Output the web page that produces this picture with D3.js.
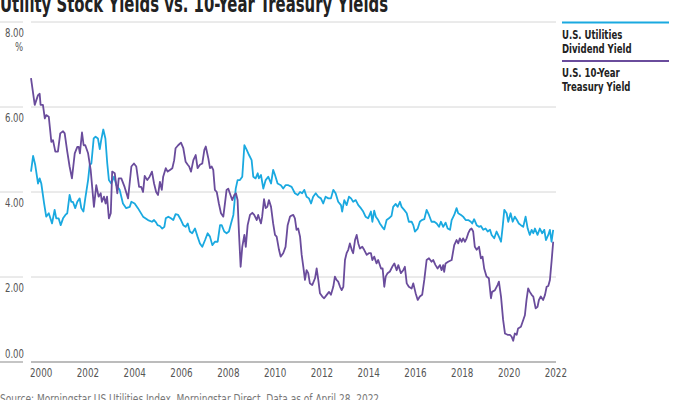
<!DOCTYPE html>
<html>
<head>
<meta charset="utf-8">
<script src="https://cdn.jsdelivr.net/npm/d3@7"></script>
<style>
  html, body { margin: 0; padding: 0; background: #fff; }
  svg { display: block; }
  .cond { font-family: "Liberation Sans Narrow", "DejaVu Sans Condensed", "Roboto", sans-serif; }
</style>
</head>
<body>
<svg id="chart" width="700" height="400"></svg>
<script>
// ---- Data (decimal years, percent yields) ----
const tsyYears = [2000.00,2000.16,2000.30,2000.37,2000.41,2000.51,2000.59,2000.65,2000.76,2000.87,2000.94,
2001.04,2001.15,2001.25,2001.37,2001.44,2001.55,2001.65,2001.75,2001.87,2001.98,
2002.04,2002.09,2002.18,2002.25,2002.32,2002.44,2002.55,2002.69,2002.79,2002.89,2002.98,
2003.03,2003.12,2003.19,2003.25,2003.33,2003.41,2003.47,2003.58,2003.69,2003.75,2003.86,
2004.00,2004.15,2004.29,2004.40,2004.50,2004.62,2004.71,2004.79,2004.86,2004.97,
2005.07,2005.17,2005.26,2005.35,2005.43,2005.51,2005.59,2005.65,2005.76,2005.84,2005.94,
2006.04,2006.12,2006.18,2006.29,2006.41,2006.51,2006.61,2006.70,2006.76,2006.84,2006.94,
2007.04,2007.12,2007.22,2007.32,2007.41,2007.47,2007.58,2007.65,2007.72,2007.79,2007.86,2007.94,
2008.03,2008.12,2008.22,2008.29,2008.36,2008.43,2008.50,2008.60,2008.69,2008.76,2008.83,2008.89,2008.96,
2009.03,2009.12,2009.18,2009.26,2009.36,2009.46,2009.54,2009.65,2009.71,2009.83,2009.88,2009.96,
2010.03,2010.10,2010.17,2010.26,2010.35,2010.43,2010.50,2010.60,2010.67,2010.78,2010.88,2010.97,
2011.07,2011.11,2011.21,2011.28,2011.35,2011.42,2011.50,2011.57,2011.64,2011.71,2011.78,2011.85,2011.92,
2012.02,2012.14,2012.21,2012.28,2012.35,2012.45,2012.53,2012.64,2012.74,2012.82,2012.92,2012.99,
2013.06,2013.13,2013.21,2013.28,2013.35,2013.42,2013.49,2013.56,2013.63,2013.71,2013.77,2013.85,2013.92,2013.99,
2014.06,2014.16,2014.24,2014.35,2014.44,2014.53,2014.59,2014.67,2014.77,2014.84,2014.96,
2015.03,2015.10,2015.16,2015.24,2015.34,2015.44,2015.53,2015.63,2015.70,2015.81,2015.91,2015.98,
2016.06,2016.15,2016.27,2016.34,2016.44,2016.53,2016.62,2016.72,2016.81,2016.91,
2017.01,2017.12,2017.19,2017.29,2017.38,2017.48,2017.55,2017.62,2017.66,2017.72,2017.83,2017.98,
2018.09,2018.19,2018.26,2018.33,2018.41,2018.47,2018.55,2018.62,2018.69,2018.76,2018.83,2018.90,2018.97,
2019.05,2019.15,2019.23,2019.30,2019.37,2019.47,2019.57,2019.66,2019.71,2019.83,2019.94,
2020.00,2020.09,2020.18,2020.26,2020.37,2020.47,2020.54,2020.61,2020.68,2020.76,2020.82,2020.94,
2021.04,2021.11,2021.18,2021.25,2021.32,2021.40,2021.47,2021.57,2021.65,2021.71,2021.79,2021.89,2021.97,
2022.04,2022.11,2022.18,2022.25,2022.32];
const tsyValues = [6.68,6.05,6.28,6.31,6.05,6.05,5.73,5.81,5.77,5.18,5.22,
4.95,4.95,5.38,5.43,5.38,4.95,4.60,4.32,4.91,5.06,
5.06,4.91,5.40,5.10,5.10,4.91,4.52,3.65,4.16,3.89,3.97,
3.77,3.89,3.73,3.89,3.38,3.50,4.48,4.44,3.97,4.32,4.32,
4.12,3.85,4.60,4.67,4.60,4.12,4.12,4.00,4.38,4.28,
4.36,4.48,4.20,4.00,3.93,4.24,4.05,4.36,4.56,4.48,4.52,
4.56,4.75,5.03,5.10,5.16,5.03,4.71,4.64,4.60,4.48,4.75,
4.87,4.56,4.64,4.67,4.99,5.07,4.79,4.56,4.60,4.52,4.05,4.00,
3.73,3.50,3.42,3.73,4.05,4.08,3.97,3.81,3.93,3.97,3.81,3.03,2.24,
2.71,2.99,2.71,3.22,3.46,3.51,3.46,3.34,3.46,3.26,3.42,3.83,
3.62,3.65,3.81,3.65,3.26,2.99,2.95,2.64,2.48,2.56,2.71,3.22,
3.42,3.44,3.46,3.38,3.11,3.14,2.95,2.52,2.24,1.93,2.16,2.09,1.85,
1.81,1.97,2.20,1.93,1.62,1.54,1.50,1.58,1.65,1.58,1.77,2.01,
1.93,1.89,1.77,1.69,1.77,2.40,2.56,2.64,2.79,2.64,2.56,2.87,2.99,2.79,
2.67,2.71,2.64,2.52,2.56,2.56,2.40,2.48,2.32,2.40,2.20,
2.20,1.77,2.01,2.09,2.13,2.24,2.32,2.16,2.28,2.09,2.16,2.24,
1.85,1.77,1.73,1.85,1.62,1.46,1.54,1.58,1.93,2.40,
2.44,2.36,2.40,2.28,2.20,2.28,2.16,2.28,2.12,2.32,2.36,2.40,
2.75,2.87,2.79,2.91,2.83,2.91,2.83,2.91,3.03,3.11,3.14,3.07,2.71,
2.64,2.71,2.44,2.48,2.20,2.01,1.97,1.50,1.65,1.69,1.81,
1.89,1.54,0.99,0.67,0.64,0.64,0.60,0.50,0.67,0.64,0.79,0.83,
0.99,1.10,1.46,1.73,1.65,1.58,1.54,1.26,1.30,1.46,1.54,1.46,1.58,
1.77,1.79,1.93,2.36,2.83];

const divYears = [2000.00,2000.09,2000.18,2000.30,2000.37,2000.44,2000.56,2000.65,2000.76,2000.90,
2001.01,2001.08,2001.18,2001.27,2001.37,2001.47,2001.55,2001.65,2001.72,2001.79,2001.89,2001.98,
2002.08,2002.15,2002.24,2002.32,2002.44,2002.51,2002.58,2002.68,2002.76,2002.86,2002.94,
2003.00,2003.09,2003.18,2003.26,2003.33,2003.43,2003.55,2003.65,2003.79,2003.93,
2004.07,2004.22,2004.29,2004.43,2004.57,2004.79,
2005.00,2005.17,2005.26,2005.35,2005.41,2005.51,2005.61,2005.70,2005.76,2005.87,2005.98,
2006.08,2006.18,2006.29,2006.41,2006.51,2006.61,2006.70,2006.79,2006.89,
2007.01,2007.12,2007.22,2007.32,2007.44,2007.55,2007.65,2007.75,2007.86,2007.98,
2008.08,2008.15,2008.26,2008.36,2008.46,2008.55,2008.65,2008.75,2008.83,2008.93,
2009.03,2009.12,2009.22,2009.32,2009.43,2009.50,2009.60,2009.69,2009.74,2009.83,2009.93,
2010.03,2010.14,2010.26,2010.35,2010.43,2010.54,2010.68,2010.78,2010.88,
2011.00,2011.14,2011.28,2011.40,2011.50,2011.59,2011.68,2011.78,2011.88,2011.97,
2012.06,2012.17,2012.28,2012.39,2012.49,2012.59,2012.71,2012.82,2012.92,
2013.02,2013.13,2013.25,2013.30,2013.39,2013.49,2013.59,2013.68,2013.77,2013.88,2013.99,
2014.10,2014.20,2014.30,2014.41,2014.53,2014.59,2014.67,2014.74,2014.84,2014.91,
2015.01,2015.10,2015.20,2015.30,2015.41,2015.48,2015.59,2015.67,2015.77,2015.84,2015.95,
2016.06,2016.15,2016.27,2016.34,2016.41,2016.53,2016.62,2016.70,2016.81,2016.91,
2017.01,2017.12,2017.24,2017.34,2017.44,2017.52,2017.62,2017.72,2017.81,2017.91,2017.98,
2018.09,2018.19,2018.26,2018.38,2018.47,2018.58,2018.69,2018.80,2018.86,2018.94,
2019.05,2019.15,2019.23,2019.33,2019.43,2019.52,2019.62,2019.69,2019.80,2019.90,
2020.00,2020.09,2020.16,2020.23,2020.33,2020.40,2020.50,2020.59,2020.68,2020.77,2020.85,2020.94,
2021.04,2021.14,2021.23,2021.32,2021.40,2021.47,2021.54,2021.65,2021.75,2021.85,2021.94,
2022.01,2022.11,2022.18,2022.25,2022.32];
const divValues = [4.48,4.85,4.64,4.20,4.32,4.20,3.73,3.42,3.50,3.26,
3.58,3.38,3.38,3.22,3.38,3.46,3.50,3.93,3.77,3.77,3.62,3.77,
3.85,3.62,3.54,3.85,4.28,4.64,4.67,5.26,5.30,5.26,5.01,
5.22,5.47,5.26,4.67,4.28,4.20,4.36,4.16,4.05,3.73,
3.62,3.65,3.77,3.73,3.62,3.42,
3.34,3.30,3.34,3.28,3.22,3.20,3.14,3.18,3.38,3.42,3.38,
3.34,3.48,3.46,3.34,3.22,3.18,3.26,3.07,3.03,
3.14,2.95,2.79,2.71,2.87,3.03,2.95,2.75,2.83,2.83,
3.22,3.22,3.07,3.03,3.07,3.26,3.46,4.08,4.28,4.28,
4.36,5.10,4.99,4.87,4.75,4.36,4.32,4.44,4.32,4.40,4.08,
4.28,4.36,4.20,4.52,4.40,4.20,4.16,4.08,4.16,
4.16,4.12,3.97,3.93,4.00,3.97,4.05,3.89,3.85,3.73,
3.89,3.97,3.89,3.85,3.73,3.89,3.85,3.85,4.05,
3.97,3.77,3.69,3.54,3.81,3.69,3.89,3.85,3.77,3.81,3.69,
3.62,3.54,3.42,3.38,3.54,3.30,3.56,3.42,3.34,3.26,
3.18,3.12,3.34,3.38,3.44,3.65,3.72,3.65,3.77,3.65,3.58,
3.50,3.30,3.30,3.22,3.07,3.14,3.30,3.34,3.36,3.58,
3.46,3.30,3.30,3.26,3.18,3.30,3.18,3.28,3.14,3.11,3.34,
3.46,3.62,3.50,3.46,3.42,3.34,3.34,3.30,3.26,3.36,
3.22,3.18,3.20,3.11,3.14,3.07,3.11,2.99,2.91,3.07,
2.95,2.83,3.18,3.58,3.50,3.30,3.50,3.30,3.42,3.34,3.26,3.22,
3.18,3.42,3.14,2.99,3.11,3.03,3.14,2.99,3.14,3.03,3.11,
2.87,2.99,3.11,2.83,3.11];

const yTicks = [0, 2, 4, 6, 8];
const xTicks = [2000, 2002, 2004, 2006, 2008, 2010, 2012, 2014, 2016, 2018, 2020, 2022];
const seriesNames = [["U.S. Utilities", "Dividend Yield"], ["U.S. 10-Year", "Treasury Yield"]];
const titleText = "Utility Stock Yields vs. 10-Year Treasury Yields";
const sourceText = "Source: Morningstar US Utilities Index, Morningstar Direct. Data as of April 28, 2022.";

// ---- Drawing ----
const svg = d3.select("#chart");
const COLORS = ["#1aa9e0", "#6a4c9c"];
const x = d3.scaleLinear().domain([2000, 2022.44]).range([31, 556]);
const y = d3.scaleLinear().domain([0, 8]).range([362, 22]);

// squeeze a text horizontally to mimic a condensed face
function condense(sel, factor) {
  sel.each(function () {
    const w = this.getComputedTextLength();
    d3.select(this).attr("textLength", w * factor).attr("lengthAdjust", "spacingAndGlyphs");
  });
}

// title
svg.append("text").attr("class", "cond")
  .attr("x", 0).attr("y", 12)
  .attr("font-size", 23).attr("font-weight", "bold").attr("fill", "#222")
  .attr("textLength", 388).attr("lengthAdjust", "spacingAndGlyphs")
  .text(titleText);

// gridlines
const grid = svg.append("g");
yTicks.forEach(t => {
  const col = t === 0 ? "#a6a6a6" : "#d6d6d6";
  grid.append("line").attr("x1", 31).attr("x2", 556)
    .attr("y1", y(t)).attr("y2", y(t)).attr("stroke", col).attr("stroke-width", t === 0 ? 1.3 : 1);
  grid.append("line").attr("x1", 0).attr("x2", 23)
    .attr("y1", y(t)).attr("y2", y(t)).attr("stroke", col).attr("stroke-width", t === 0 ? 1.3 : 1);
});

// y labels
const yAxis = svg.append("g").attr("class", "cond").attr("font-size", 12.5).attr("fill", "#555");
yTicks.forEach(t => {
  yAxis.append("text").attr("x", 24).attr("y", y(t) + (t === 0 ? -4 : 15))
    .attr("text-anchor", "end").text(d3.format(".2f")(t));
});
yAxis.append("text").attr("x", 23).attr("y", y(8) + 29).attr("text-anchor", "end").text("%");
condense(yAxis.selectAll("text"), 0.76);

// x labels
const xAxis = svg.append("g").attr("class", "cond").attr("font-size", 12.5).attr("fill", "#555");
xTicks.forEach(t => {
  xAxis.append("text").attr("x", x(t) - 1).attr("y", 377).attr("text-anchor", "start").text(t);
});
condense(xAxis.selectAll("text"), 0.78);

// lines
const line = d3.line().x(d => x(d[0])).y(d => y(d[1])).curve(d3.curveLinear);
const divData = divYears.map((d, i) => [d, divValues[i]]);
const tsyData = tsyYears.map((d, i) => [d, tsyValues[i]]);
svg.append("path").datum(divData).attr("d", line)
  .attr("fill", "none").attr("stroke", COLORS[0]).attr("stroke-width", 1.8).attr("stroke-linejoin", "round");
svg.append("path").datum(tsyData).attr("d", line)
  .attr("fill", "none").attr("stroke", COLORS[1]).attr("stroke-width", 1.8).attr("stroke-linejoin", "round");

// legend
const leg = svg.append("g").attr("class", "cond");
[22.5, 61].forEach((ly, i) => {
  leg.append("line").attr("x1", 562).attr("x2", 669).attr("y1", ly).attr("y2", ly)
    .attr("stroke", COLORS[i]).attr("stroke-width", 2);
  seriesNames[i].forEach((s, j) => {
    leg.append("text").attr("x", 562).attr("y", ly + 16 + j * 14)
      .attr("font-size", 12.5).attr("font-weight", "bold").attr("fill", "#222").text(s);
  });
});
condense(leg.selectAll("text"), 0.76);

// source
svg.append("text").attr("class", "cond")
  .attr("x", 0).attr("y", 403)
  .attr("font-size", 12).attr("fill", "#777")
  .attr("textLength", 382).attr("lengthAdjust", "spacingAndGlyphs")
  .text(sourceText);
</script>
</body>
</html>
